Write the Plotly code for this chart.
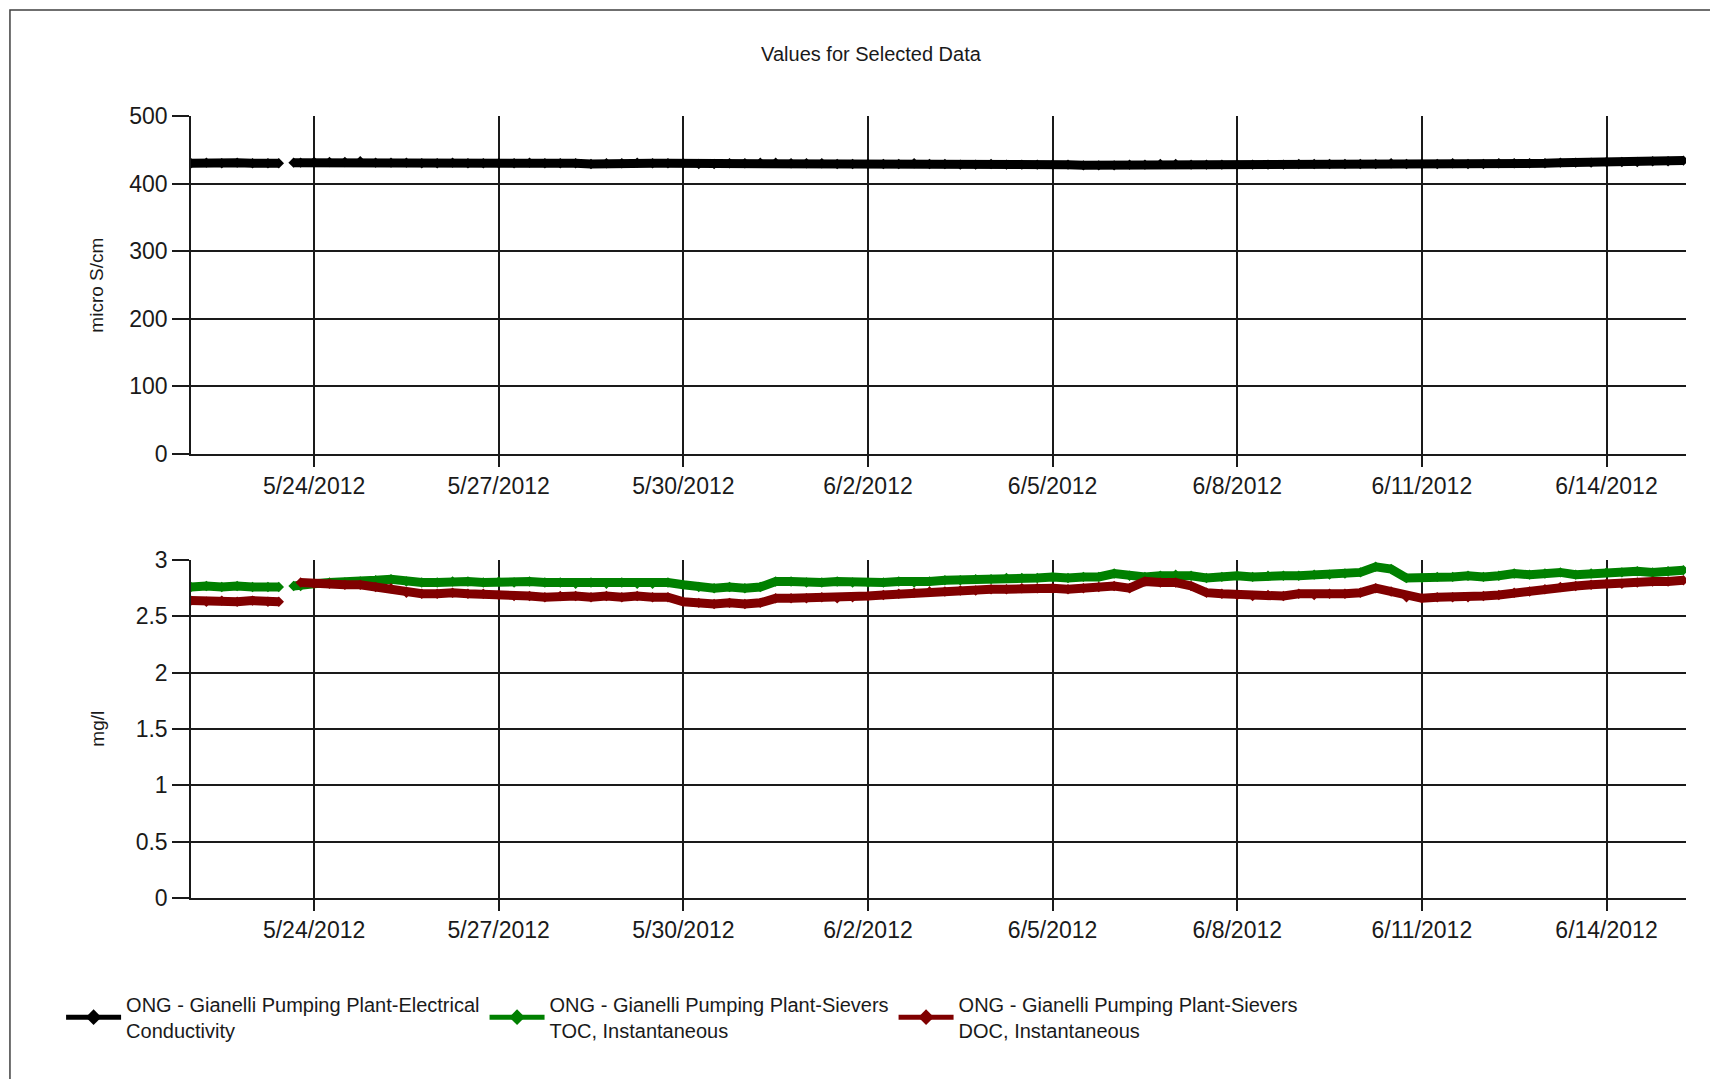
import pandas as pd
import plotly.graph_objects as go

# ---- data (readings; 6-hourly after the early gap) ----
early_times = [
    "2012-05-22 00:00", "2012-05-22 06:00", "2012-05-22 12:00", "2012-05-22 18:00",
    "2012-05-23 00:00", "2012-05-23 06:00", "2012-05-23 10:15", "2012-05-23 13:00",
    "2012-05-23 16:00", "2012-05-23 18:45",
]
later_times = pd.date_range("2012-05-24 00:00", "2012-06-15 06:00", freq="6h")
times = pd.to_datetime(early_times).append(later_times)

conductivity = [
    430, 431, 430, 431, 430, 430, 430, None, 431, 431,
    432, 432, 432, 433, 431, 431, 431, 430, 430, 431, 430, 430,
    430, 430, 431, 430, 430, 430, 429, 430, 430, 431, 430, 430,
    430, 429, 429, 430, 430, 431, 431, 430, 430, 430, 429, 429,
    429, 429, 429, 430, 429, 429, 428, 428, 429, 428, 428, 428,
    428, 428, 427, 427, 427, 428, 428, 429, 429, 428, 428, 428,
    428, 428, 428, 428, 429, 429, 429, 429, 429, 429, 430, 429,
    429, 429, 430, 429, 429, 430, 430, 430, 430, 431, 431, 431,
    432, 432, 432, 433, 433, 434,
]

toc = [
    2.76, 2.77, 2.76, 2.77, 2.76, 2.76, 2.76, None, 2.77, 2.77,
    2.79, 2.80, 2.80, 2.81, 2.82, 2.83, 2.81, 2.80, 2.80, 2.81, 2.81, 2.80,
    2.81, 2.80, 2.81, 2.80, 2.80, 2.79, 2.80, 2.79, 2.80, 2.79, 2.79, 2.80,
    2.78, 2.76, 2.75, 2.76, 2.75, 2.76, 2.81, 2.81, 2.80, 2.80, 2.81, 2.80,
    2.80, 2.80, 2.81, 2.80, 2.81, 2.82, 2.82, 2.83, 2.83, 2.84, 2.84, 2.84,
    2.85, 2.84, 2.85, 2.85, 2.88, 2.86, 2.85, 2.86, 2.87, 2.86, 2.84, 2.85,
    2.86, 2.85, 2.86, 2.86, 2.86, 2.87, 2.87, 2.88, 2.89, 2.94, 2.92, 2.84,
    2.84, 2.85, 2.85, 2.86, 2.85, 2.86, 2.88, 2.87, 2.88, 2.89, 2.87, 2.88,
    2.89, 2.89, 2.90, 2.89, 2.90, 2.91,
]

doc = [
    2.64, 2.63, 2.64, 2.63, 2.64, 2.63, 2.63, None, None, 2.80,
    2.79, 2.79, 2.78, 2.78, 2.76, 2.75, 2.71, 2.70, 2.70, 2.71, 2.70, 2.70,
    2.69, 2.68, 2.68, 2.67, 2.68, 2.68, 2.67, 2.68, 2.67, 2.68, 2.67, 2.67,
    2.63, 2.62, 2.61, 2.62, 2.61, 2.62, 2.66, 2.66, 2.66, 2.67, 2.66, 2.67,
    2.68, 2.69, 2.70, 2.71, 2.72, 2.72, 2.73, 2.73, 2.74, 2.74, 2.75, 2.75,
    2.75, 2.74, 2.75, 2.76, 2.77, 2.75, 2.81, 2.80, 2.80, 2.77, 2.71, 2.70,
    2.69, 2.68, 2.69, 2.68, 2.70, 2.69, 2.70, 2.70, 2.71, 2.75, 2.72, 2.67,
    2.66, 2.67, 2.67, 2.67, 2.68, 2.69, 2.71, 2.72, 2.74, 2.76, 2.77, 2.78,
    2.79, 2.79, 2.80, 2.81, 2.81, 2.82,
]

names = [
    "ONG - Gianelli Pumping Plant-Electrical<br>Conductivity",
    "ONG - Gianelli Pumping Plant-Sievers<br>TOC, Instantaneous",
    "ONG - Gianelli Pumping Plant-Sievers<br>DOC, Instantaneous",
]
colors = ["#000000", "#008000", "#800000"]

x_start = "2012-05-22 00:00"
x_end = "2012-06-15 07:00"
tick_start = "2012-05-24"
three_days_ms = 3 * 24 * 3600 * 1000

FONT = "Liberation Sans, Arial, sans-serif"
W, H = 1710, 1071

fig = go.Figure()
fig.add_trace(go.Scatter(x=times, y=conductivity, name=names[0], mode="lines+markers",
                         line=dict(color=colors[0], width=9), marker=dict(size=8, symbol="diamond"),
                         connectgaps=False, xaxis="x2", yaxis="y2"))
fig.add_trace(go.Scatter(x=times, y=toc, name=names[1], mode="lines+markers",
                         line=dict(color=colors[1], width=9), marker=dict(size=8, symbol="diamond"),
                         connectgaps=False, xaxis="x", yaxis="y"))
fig.add_trace(go.Scatter(x=times, y=doc, name=names[2], mode="lines+markers",
                         line=dict(color=colors[2], width=9), marker=dict(size=8, symbol="diamond"),
                         connectgaps=False, xaxis="x", yaxis="y"))

grid = "#1a1a1a"
xcommon = dict(type="date", range=[x_start, x_end], tick0=tick_start, dtick=three_days_ms,
               tickformat="%-m/%-d/%Y", ticks="outside", ticklen=11, tickwidth=1.5, tickcolor=grid,
               showgrid=True, gridcolor=grid, gridwidth=1.5, showline=True, linecolor=grid,
               linewidth=1.5, zeroline=False, tickfont=dict(size=23, color="#1a1a1a", family=FONT))
ycommon = dict(ticks="outside", ticklen=17, tickwidth=1.5, tickcolor=grid, showgrid=True,
               gridcolor=grid, gridwidth=1.5, showline=True, linecolor=grid, linewidth=1.5,
               zeroline=False, tickfont=dict(size=23, color="#1a1a1a", family=FONT))

fig.update_layout(
    width=W, height=H,
    margin=dict(l=183, r=32, t=108, b=181),
    paper_bgcolor="white", plot_bgcolor="white",
    font=dict(family=FONT, color="#1a1a1a"),
    title=dict(text="Values for Selected Data", x=863 / W, xanchor="center",
               y=1 - 46 / H, yanchor="middle", font=dict(size=20, family=FONT)),
    xaxis=dict(domain=[0, 1], anchor="y", **xcommon),
    xaxis2=dict(domain=[0, 1], anchor="y2", **xcommon),
    yaxis=dict(domain=[0, 0.4322], range=[0, 3], dtick=0.5, anchor="x", **ycommon),
    yaxis2=dict(domain=[0.5678, 1], range=[0, 500], dtick=100, anchor="x2", **ycommon),
    showlegend=True,
    legend=dict(orientation="h", x=-0.0869, xanchor="left", y=-0.1108, yanchor="top",
                font=dict(size=20, family=FONT, color="#1a1a1a"), itemwidth=55,
                bgcolor="rgba(0,0,0,0)", itemsizing="constant", tracegroupgap=0),
    annotations=[
        dict(text="micro S/cm", x=-0.0631, y=0.7839, xref="paper", yref="paper",
             textangle=-90, showarrow=False, font=dict(size=19, family=FONT),
             xanchor="center", yanchor="middle"),
        dict(text="mg/l", x=-0.0631, y=0.2161, xref="paper", yref="paper",
             textangle=-90, showarrow=False, font=dict(size=19, family=FONT),
             xanchor="center", yanchor="middle"),
    ],
    shapes=[
        dict(type="rect", xref="paper", yref="paper", x0=-0.1211, y0=-0.26, x1=1.04, y1=1.1355,
             line=dict(color="#404040", width=1.5), fillcolor="rgba(0,0,0,0)", layer="below"),
    ],
)

fig.write_html("out.html")
